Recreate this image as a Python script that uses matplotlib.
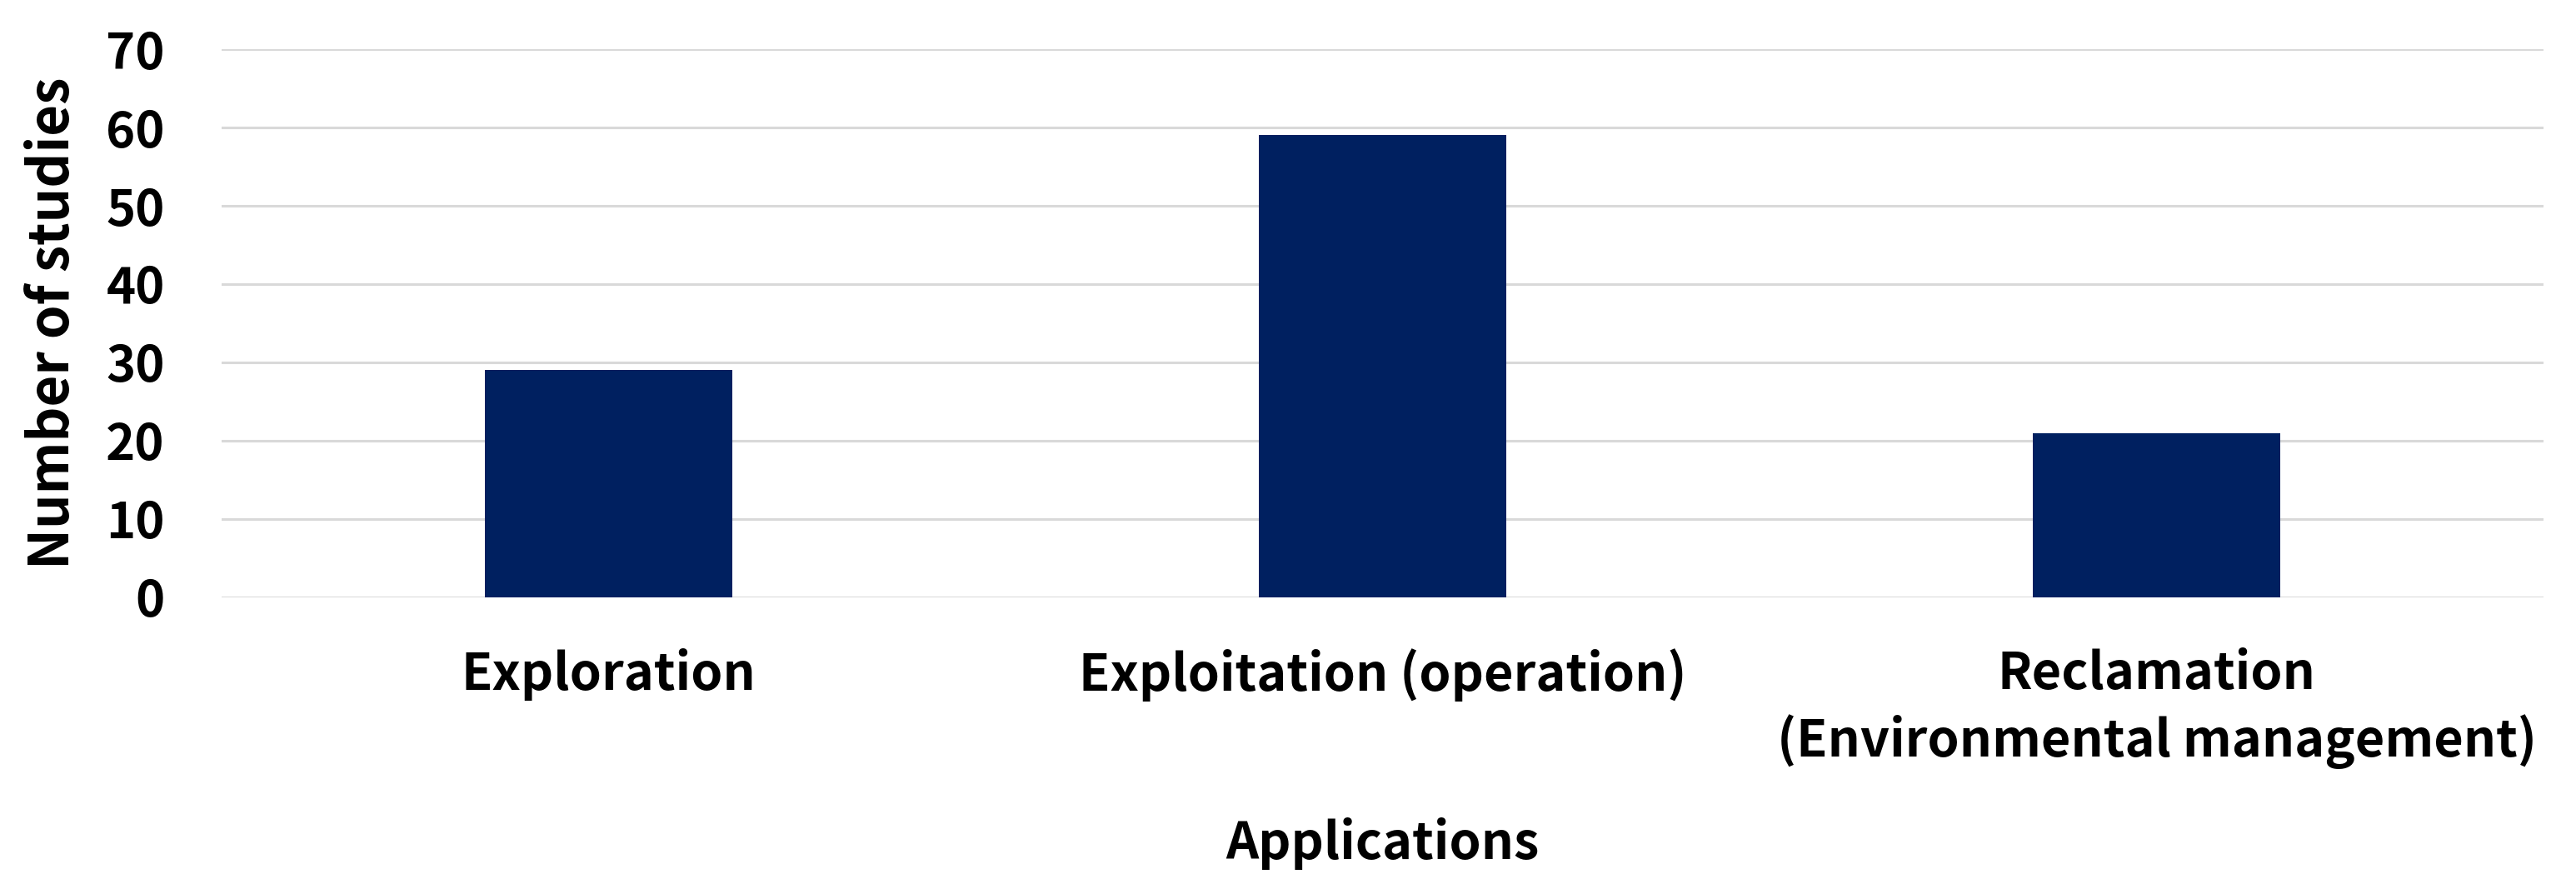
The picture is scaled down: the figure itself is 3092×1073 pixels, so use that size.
import matplotlib.pyplot as plt

# categories and study counts
categories = ['Exploration', 'Exploitation (operation)', 'Reclamation\n(Environmental management)']
counts = [29, 59, 21]
y_ticks = [0, 10, 20, 30, 40, 50, 60, 70]

plt.rcParams['font.family'] = ['Noto Sans CJK KR', 'DejaVu Sans']
plt.rcParams['font.weight'] = 'bold'

fig = plt.figure(figsize=(30.92, 10.73), dpi=100)
ax = fig.add_axes([0.086, 0.3318, 0.9014, 0.6132])

x = range(len(categories))
ax.bar(x, counts, width=0.32, color='#002060', zorder=3)

ax.set_xlim(-0.5, len(categories) - 0.5)
ax.set_ylim(0, 70)
ax.set_yticks(y_ticks)
ax.set_xticks(list(x))
ax.set_xticklabels(categories, fontsize=44, fontweight='bold', linespacing=1.35)
ax.tick_params(axis='y', labelsize=43, length=0, pad=49)
ax.tick_params(axis='x', length=0, pad=44)
for lab in ax.get_yticklabels():
    lab.set_fontweight('bold')

#light horizontal grid, no spines
ax.grid(axis='y', color='#d9d9d9', linewidth=2.2, zorder=0)
for s in ax.spines.values():
    s.set_visible(False)

ax.set_ylabel('Number of studies', fontsize=47, fontweight='bold', labelpad=22)
ax.set_xlabel('Applications', fontsize=44, fontweight='bold', labelpad=42)

fig.savefig('out.png', dpi=100)
